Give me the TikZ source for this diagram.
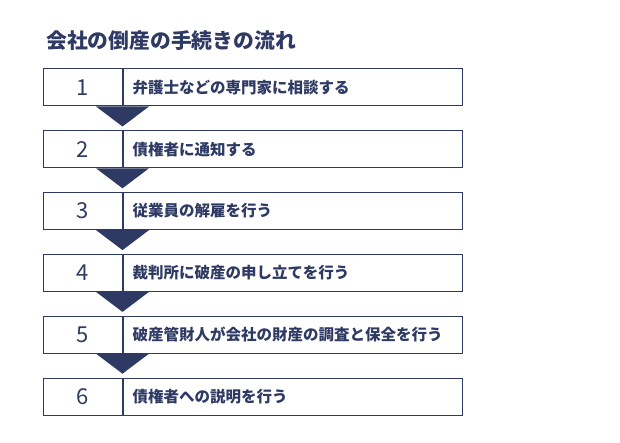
\documentclass[tikz,border=0pt]{standalone}
\usepackage{fontspec}
\setmainfont{Noto Sans CJK JP}
\usetikzlibrary{calc}
\usetikzlibrary{positioning}

\definecolor{navy}{RGB}{46,58,99}

\begin{document}
\begin{tikzpicture} [x=1pt, y=-1pt,
  numbox/.style={draw=navy, line width=1pt, minimum width=79pt, minimum height=37pt, inner sep=0pt, text=navy, font=\fontsize{22}{22}\selectfont},
  textbox/.style={draw=navy, line width=1pt, minimum width=339pt, minimum height=37pt, inner sep=0pt},
  label/.style={anchor=west, text=navy, inner sep=0pt, font=\bfseries\fontsize{15.5}{15.5}\selectfont}]
\useasboundingbox (0,0) rectangle (620,443);

\node[anchor=west, text=navy, inner sep=0pt, font=\bfseries\fontsize{20.8}{20.8}\selectfont] (title) at (46,41) {会社の倒産の手続きの流れ};

\foreach \n/\txt [evaluate=\n as \ymid using 87.5+61.8*(\n-1)] in {1/弁護士などの専門家に相談する, 2/債権者に通知する, 3/従業員の解雇を行う, 4/裁判所に破産の申し立てを行う, 5/破産管財人が会社の財産の調査と保全を行う, 6/債権者への説明を行う}
{
\node[numbox] (num\n) at (82.5,\ymid) {\n};
\node[textbox, anchor=west] (txt\n) at (num\n.east) {};
\node[label] (lab\n) at ($(txt\n.west)+(10,0)$) {\txt};
}

% arrows between steps
\foreach \n in {1,...,5}
\fill[navy] ($(num\n.south east)+(-26.5,0)$) -- ($(num\n.south east)+(26.5,0)$) -- ($(num\n.south east)+(0,20)$) -- cycle;

\end{tikzpicture}
\end{document}
